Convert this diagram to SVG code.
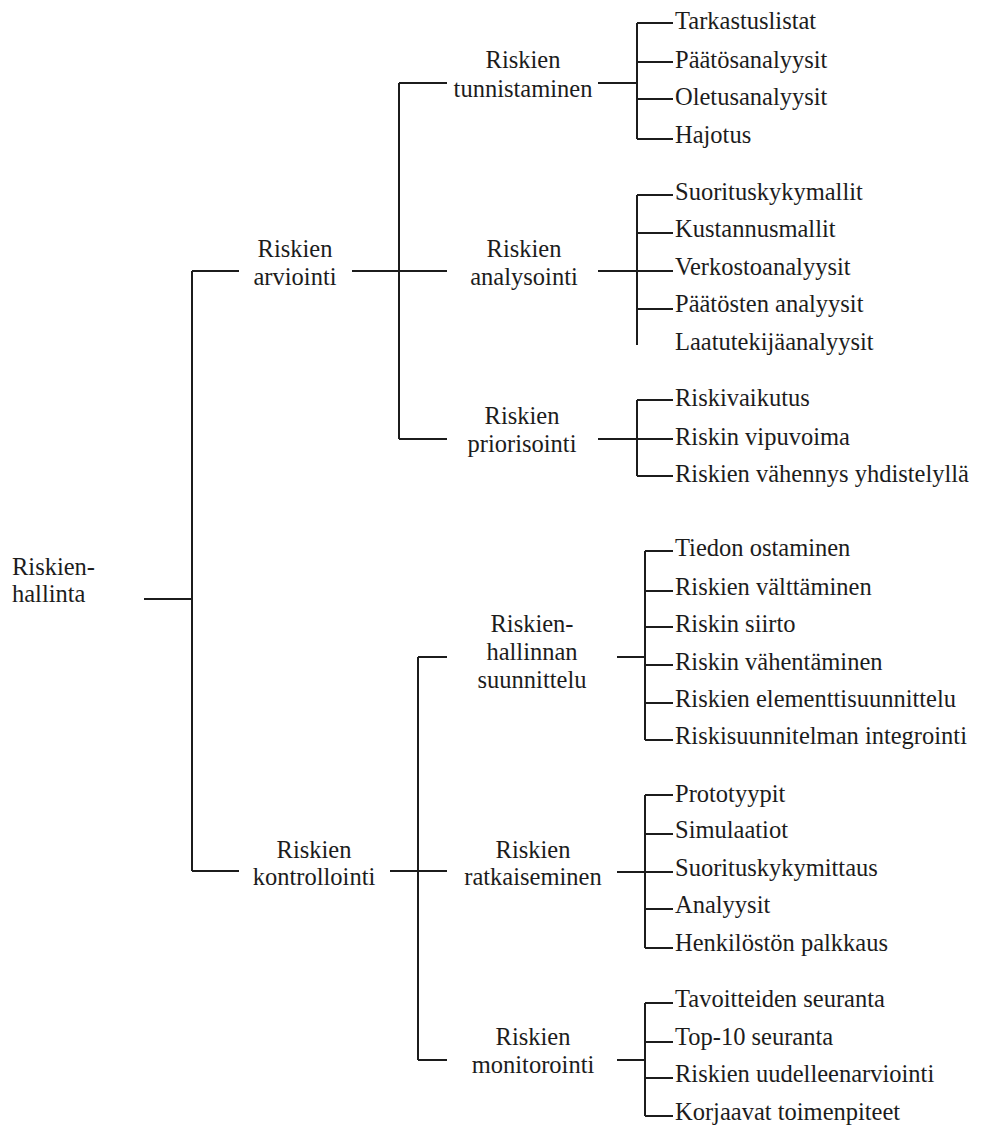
<svg xmlns="http://www.w3.org/2000/svg" width="981" height="1126" viewBox="0 0 981 1126">
  <style>
    .t { font-family: 'Liberation Serif', 'Tinos', 'DejaVu Serif', serif; font-size: 24.5px; fill: #1c1c1c; }
    .mid { text-anchor: middle; }
    .link { fill: none; stroke: #1c1c1c; stroke-width: 2; }
  </style>
  <rect width="981" height="1126" fill="#ffffff"/>

  <!-- connectors -->
  <g id="connectors" class="link">
    <!-- root -->
    <path d="M144 599 H192 M192 271 V871 M192 271 H239 M192 871 H239"/>
    <!-- Riskien arviointi -->
    <path d="M352 271 H447 M399 83 V439 M399 83 H447 M399 439 H447"/>
    <!-- Riskien tunnistaminen -->
    <path d="M598 83 H637 M637 23 V139 M637 23 H673 M637 62 H673 M637 99 H673 M637 139 H673"/>
    <!-- Riskien analysointi -->
    <path d="M598 271 H673 M637 195 V345 M637 195 H673 M637 233 H673 M637 309 H673"/>
    <!-- Riskien priorisointi -->
    <path d="M598 439 H673 M637 400 V476 M637 400 H673 M637 476 H673"/>
    <!-- Riskien kontrollointi -->
    <path d="M390 871 H447 M418 657 V1060 M418 657 H447 M418 1060 H447"/>
    <!-- Riskienhallinnan suunnittelu -->
    <path d="M617 657 H645 M645 551 V740 M645 551 H673 M645 591 H673 M645 627 H673 M645 665 H673 M645 703 H673 M645 740 H673"/>
    <!-- Riskien ratkaiseminen -->
    <path d="M617 872 H673 M645 795 V948 M645 795 H673 M645 834 H673 M645 909 H673 M645 948 H673"/>
    <!-- Riskien monitorointi -->
    <path d="M617 1060 H645 M645 1003 V1116 M645 1003 H673 M645 1042 H673 M645 1078 H673 M645 1116 H673"/>
  </g>

  <g class="t" font-family="'Liberation Serif', 'DejaVu Serif', serif">
  <!-- root -->
  <g id="riskienhallinta">
    <text x="12" y="575">Riskien-</text>
    <text x="12" y="602">hallinta</text>
  </g>

  <!-- level 1 -->
  <g id="riskien-arviointi" class="mid">
    <text x="295" y="257">Riskien</text>
    <text x="295" y="285">arviointi</text>
  </g>
  <g id="riskien-kontrollointi" class="mid">
    <text x="314" y="858">Riskien</text>
    <text x="314" y="885">kontrollointi</text>
  </g>

  <!-- level 2 -->
  <g id="riskien-tunnistaminen" class="mid">
    <text x="523" y="68">Riskien</text>
    <text x="523" y="97">tunnistaminen</text>
  </g>
  <g id="riskien-analysointi" class="mid">
    <text x="524" y="257">Riskien</text>
    <text x="524" y="285">analysointi</text>
  </g>
  <g id="riskien-priorisointi" class="mid">
    <text x="522" y="424">Riskien</text>
    <text x="522" y="452">priorisointi</text>
  </g>
  <g id="riskienhallinnan-suunnittelu" class="mid">
    <text x="532" y="632">Riskien-</text>
    <text x="532" y="660">hallinnan</text>
    <text x="532" y="688">suunnittelu</text>
  </g>
  <g id="riskien-ratkaiseminen" class="mid">
    <text x="533" y="858">Riskien</text>
    <text x="533" y="885">ratkaiseminen</text>
  </g>
  <g id="riskien-monitorointi" class="mid">
    <text x="533" y="1045">Riskien</text>
    <text x="533" y="1073">monitorointi</text>
  </g>

  <!-- leaves: tunnistaminen -->
  <g id="tarkastuslistat"><text x="675" y="29">Tarkastuslistat</text></g>
  <g id="paatosanalyysit"><text x="675" y="68">Päätösanalyysit</text></g>
  <g id="oletusanalyysit"><text x="675" y="105">Oletusanalyysit</text></g>
  <g id="hajotus"><text x="675" y="143">Hajotus</text></g>

  <!-- leaves: analysointi -->
  <g id="suorituskykymallit"><text x="675" y="200">Suorituskykymallit</text></g>
  <g id="kustannusmallit"><text x="675" y="237">Kustannusmallit</text></g>
  <g id="verkostoanalyysit"><text x="675" y="275">Verkostoanalyysit</text></g>
  <g id="paatosten-analyysit"><text x="675" y="312">Päätösten analyysit</text></g>
  <g id="laatutekijaanalyysit"><text x="675" y="350">Laatutekijäanalyysit</text></g>

  <!-- leaves: priorisointi -->
  <g id="riskivaikutus"><text x="675" y="406">Riskivaikutus</text></g>
  <g id="riskin-vipuvoima"><text x="675" y="445">Riskin vipuvoima</text></g>
  <g id="riskien-vahennys"><text x="675" y="482">Riskien vähennys yhdistelyllä</text></g>

  <!-- leaves: suunnittelu -->
  <g id="tiedon-ostaminen"><text x="675" y="556">Tiedon ostaminen</text></g>
  <g id="riskien-valttaminen"><text x="675" y="595">Riskien välttäminen</text></g>
  <g id="riskin-siirto"><text x="675" y="632">Riskin siirto</text></g>
  <g id="riskin-vahentaminen"><text x="675" y="670">Riskin vähentäminen</text></g>
  <g id="riskien-elementtisuunnittelu"><text x="675" y="707">Riskien elementtisuunnittelu</text></g>
  <g id="riskisuunnitelman-integrointi"><text x="675" y="744">Riskisuunnitelman integrointi</text></g>

  <!-- leaves: ratkaiseminen -->
  <g id="prototyypit"><text x="675" y="802">Prototyypit</text></g>
  <g id="simulaatiot"><text x="675" y="838">Simulaatiot</text></g>
  <g id="suorituskykymittaus"><text x="675" y="876">Suorituskykymittaus</text></g>
  <g id="analyysit"><text x="675" y="913">Analyysit</text></g>
  <g id="henkiloston-palkkaus"><text x="675" y="951">Henkilöstön palkkaus</text></g>

  <!-- leaves: monitorointi -->
  <g id="tavoitteiden-seuranta"><text x="675" y="1007">Tavoitteiden seuranta</text></g>
  <g id="top10-seuranta"><text x="675" y="1045">Top-10 seuranta</text></g>
  <g id="riskien-uudelleenarviointi"><text x="675" y="1082">Riskien uudelleenarviointi</text></g>
  <g id="korjaavat-toimenpiteet"><text x="675" y="1120">Korjaavat toimenpiteet</text></g>
  </g>
</svg>
